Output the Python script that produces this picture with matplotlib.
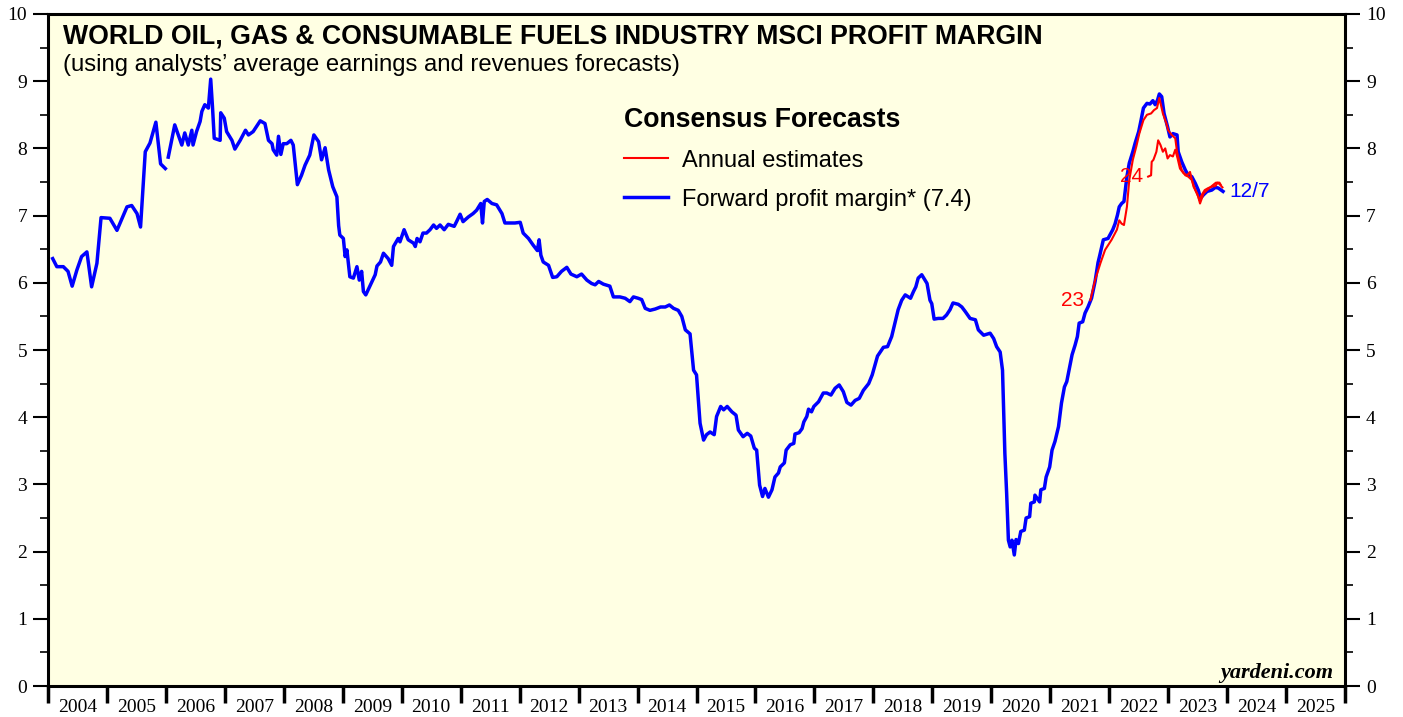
import numpy as np
import matplotlib.pyplot as plt
from matplotlib.ticker import MultipleLocator, FixedLocator, NullFormatter

# Forward profit margin (blue), decimal year vs. percent; NaN = data gap
fwd_year = [2004.08, 2004.15, 2004.26, 2004.34, 2004.41, 2004.49, 2004.57, 2004.66, 2004.74, 2004.83,
            2004.90, 2005.05, 2005.17, 2005.34, 2005.42, 2005.51, 2005.57, 2005.65, 2005.73, 2005.83,
            2005.91, 2005.99, 2006.01,
            2006.04, 2006.15, 2006.21, 2006.27, 2006.32, 2006.38, 2006.44, 2006.46, 2006.52, 2006.58,
            2006.61, 2006.66, 2006.72, 2006.76, 2006.79, 2006.82, 2006.92, 2006.93, 2006.99, 2007.03,
            2007.12, 2007.17, 2007.26, 2007.35, 2007.40, 2007.48, 2007.60, 2007.68, 2007.74, 2007.80,
            2007.82, 2007.88, 2007.91, 2007.95, 2007.99, 2008.05, 2008.12, 2008.16, 2008.23, 2008.30,
            2008.36, 2008.44, 2008.51, 2008.59, 2008.64, 2008.70, 2008.76, 2008.83, 2008.90, 2008.93,
            2008.95, 2009.01, 2009.04, 2009.07, 2009.12, 2009.18, 2009.24, 2009.28, 2009.32, 2009.35,
            2009.39, 2009.46, 2009.55, 2009.58, 2009.64, 2009.69, 2009.77, 2009.83, 2009.86, 2009.94,
            2009.97, 2010.04, 2010.11, 2010.20, 2010.23, 2010.26, 2010.31, 2010.36, 2010.42, 2010.48,
            2010.54, 2010.59, 2010.65, 2010.72, 2010.79, 2010.89, 2010.93, 2010.99, 2011.04, 2011.13,
            2011.21, 2011.27, 2011.34, 2011.37, 2011.40, 2011.45, 2011.53, 2011.61, 2011.70, 2011.75,
            2011.84, 2011.92, 2012.01, 2012.06, 2012.15, 2012.23, 2012.30, 2012.33, 2012.36, 2012.40,
            2012.49, 2012.56, 2012.63, 2012.71, 2012.80, 2012.87, 2012.97, 2013.05, 2013.14, 2013.22,
            2013.28, 2013.34, 2013.42, 2013.53, 2013.59, 2013.70, 2013.79, 2013.87, 2013.93, 2014.01,
            2014.07, 2014.13, 2014.21, 2014.30, 2014.39, 2014.47, 2014.54, 2014.61, 2014.69, 2014.75,
            2014.81, 2014.89, 2014.95, 2015.00, 2015.06, 2015.12, 2015.17, 2015.23, 2015.30, 2015.34,
            2015.41, 2015.46, 2015.52, 2015.60, 2015.67, 2015.71, 2015.79, 2015.86, 2015.92, 2015.98,
            2016.02, 2016.07, 2016.12, 2016.16, 2016.22, 2016.28, 2016.33, 2016.39, 2016.42, 2016.49,
            2016.52, 2016.59, 2016.65, 2016.67, 2016.74, 2016.79, 2016.82, 2016.87, 2016.90, 2016.95,
            2016.99, 2017.07, 2017.15, 2017.21, 2017.28, 2017.35, 2017.42, 2017.49, 2017.55, 2017.62,
            2017.69, 2017.76, 2017.83, 2017.92, 2017.98, 2018.07, 2018.17, 2018.24, 2018.31, 2018.37,
            2018.42, 2018.48, 2018.54, 2018.63, 2018.68, 2018.72, 2018.76, 2018.82, 2018.91, 2018.96,
            2018.99, 2019.03, 2019.10, 2019.18, 2019.24, 2019.30, 2019.35, 2019.44, 2019.50, 2019.56,
            2019.64, 2019.73, 2019.78, 2019.87, 2019.98, 2020.04, 2020.09, 2020.15, 2020.19, 2020.23,
            2020.26, 2020.29, 2020.32, 2020.35, 2020.39, 2020.42, 2020.46, 2020.50, 2020.56, 2020.59,
            2020.65, 2020.67, 2020.73, 2020.74, 2020.82, 2020.84, 2020.90, 2020.93, 2020.99, 2021.03,
            2021.08, 2021.14, 2021.19, 2021.24, 2021.28, 2021.33, 2021.37, 2021.42, 2021.46, 2021.49,
            2021.55, 2021.59, 2021.64, 2021.70, 2021.76, 2021.81, 2021.84, 2021.90, 2021.98, 2022.06,
            2022.10, 2022.14, 2022.17, 2022.21, 2022.25, 2022.30, 2022.34, 2022.40, 2022.44, 2022.50,
            2022.54, 2022.58, 2022.64, 2022.69, 2022.74, 2022.78, 2022.82, 2022.85, 2022.89, 2022.93,
            2022.99, 2023.03, 2023.08, 2023.15, 2023.17, 2023.23, 2023.29, 2023.34, 2023.40, 2023.46,
            2023.51, 2023.55, 2023.60, 2023.66, 2023.74, 2023.80, 2023.85, 2023.93]
fwd_margin = [6.36, 6.24, 6.24, 6.17, 5.95, 6.19, 6.39, 6.46, 5.94, 6.29,
              6.97, 6.96, 6.78, 7.13, 7.15, 7.03, 6.83, 7.95, 8.08, 8.39,
              7.77, 7.70, np.nan,
              7.87, 8.35, 8.20, 8.05, 8.23, 8.05, 8.27, 8.05, 8.25, 8.40,
              8.55, 8.65, 8.60, 9.03, 8.62, 8.15, 8.12, 8.53, 8.45, 8.25,
              8.12, 7.99, 8.12, 8.27, 8.20, 8.25, 8.41, 8.37, 8.12, 8.07,
              7.98, 7.90, 8.18, 7.91, 8.07, 8.07, 8.12, 8.05, 7.46, 7.60,
              7.75, 7.90, 8.20, 8.10, 7.83, 8.01, 7.68, 7.43, 7.28, 6.85,
              6.71, 6.66, 6.39, 6.49, 6.09, 6.07, 6.24, 6.04, 6.17, 5.87,
              5.82, 5.95, 6.12, 6.25, 6.31, 6.44, 6.36, 6.26, 6.54, 6.66,
              6.61, 6.79, 6.64, 6.59, 6.54, 6.66, 6.61, 6.74, 6.74, 6.79,
              6.86, 6.81, 6.86, 6.79, 6.87, 6.84, 6.91, 7.02, 6.91, 6.98,
              7.03, 7.08, 7.18, 6.89, 7.21, 7.24, 7.18, 7.16, 7.03, 6.89,
              6.89, 6.89, 6.90, 6.74, 6.66, 6.56, 6.48, 6.64, 6.41, 6.31,
              6.26, 6.08, 6.09, 6.17, 6.23, 6.13, 6.09, 6.13, 6.04, 5.99,
              5.97, 6.02, 5.98, 5.95, 5.79, 5.79, 5.77, 5.72, 5.79, 5.77,
              5.75, 5.62, 5.59, 5.61, 5.64, 5.64, 5.67, 5.62, 5.59, 5.50,
              5.30, 5.24, 4.70, 4.63, 3.91, 3.66, 3.74, 3.78, 3.74, 4.01,
              4.16, 4.11, 4.16, 4.08, 4.03, 3.81, 3.71, 3.76, 3.72, 3.54,
              3.51, 2.99, 2.82, 2.94, 2.81, 2.92, 3.11, 3.17, 3.26, 3.32,
              3.51, 3.59, 3.61, 3.75, 3.77, 3.83, 3.93, 4.01, 4.12, 4.08,
              4.16, 4.23, 4.36, 4.36, 4.33, 4.43, 4.48, 4.38, 4.22, 4.18,
              4.25, 4.28, 4.40, 4.50, 4.63, 4.91, 5.04, 5.05, 5.20, 5.42,
              5.60, 5.74, 5.82, 5.77, 5.87, 5.94, 6.07, 6.12, 5.99, 5.74,
              5.69, 5.46, 5.47, 5.47, 5.52, 5.60, 5.70, 5.68, 5.64, 5.57,
              5.47, 5.45, 5.30, 5.22, 5.25, 5.17, 5.05, 4.97, 4.70, 3.46,
              2.87, 2.17, 2.07, 2.17, 1.95, 2.18, 2.12, 2.30, 2.32, 2.50,
              2.52, 2.72, 2.74, 2.84, 2.74, 2.92, 2.94, 3.11, 3.26, 3.51,
              3.64, 3.86, 4.21, 4.45, 4.53, 4.75, 4.93, 5.07, 5.20, 5.40,
              5.42, 5.55, 5.64, 5.77, 6.02, 6.30, 6.41, 6.64, 6.66, 6.79,
              6.88, 7.01, 7.13, 7.18, 7.21, 7.58, 7.78, 7.95, 8.08, 8.25,
              8.42, 8.60, 8.67, 8.66, 8.71, 8.65, 8.72, 8.81, 8.77, 8.52,
              8.32, 8.17, 8.22, 8.20, 7.95, 7.80, 7.68, 7.60, 7.58, 7.48,
              7.38, 7.26, 7.31, 7.36, 7.38, 7.42, 7.41, 7.36]

# Annual estimates (red)
est23_year = [2021.68, 2021.76, 2021.85, 2021.93, 2022.04, 2022.13, 2022.17, 2022.21, 2022.25, 2022.30,
              2022.34, 2022.40, 2022.46, 2022.51, 2022.58, 2022.64, 2022.71, 2022.76, 2022.81, 2022.85,
              2022.91, 2022.97, 2023.00, 2023.06, 2023.12, 2023.15, 2023.19, 2023.23, 2023.29, 2023.34,
              2023.40, 2023.46, 2023.51, 2023.54, 2023.60, 2023.66, 2023.74, 2023.81, 2023.87, 2023.89]
est23 = [5.74, 6.04, 6.29, 6.49, 6.64, 6.79, 6.93, 6.88, 6.86, 7.13,
         7.53, 7.83, 8.03, 8.22, 8.42, 8.50, 8.52, 8.57, 8.60, 8.75,
         8.52, 8.37, 8.27, 8.20, 8.15, 7.95, 7.80, 7.68, 7.60, 7.58,
         7.53, 7.38, 7.28, 7.18, 7.33, 7.38, 7.44, 7.49, 7.49, 7.46]
est24_year = [2022.66, 2022.71, 2022.72, 2022.75, 2022.80, 2022.83, 2022.87, 2022.91, 2022.95, 2022.99,
              2023.03, 2023.08, 2023.12, 2023.16, 2023.20, 2023.26, 2023.32, 2023.37, 2023.43, 2023.49,
              2023.53, 2023.57, 2023.62, 2023.68, 2023.74, 2023.80, 2023.84, 2023.88, 2023.92]
est24 = [7.58, 7.60, 7.80, 7.83, 7.95, 8.12, 8.05, 7.95, 8.00, 7.85,
         7.90, 7.88, 7.98, 7.85, 7.70, 7.63, 7.60, 7.65, 7.43, 7.33,
         7.23, 7.31, 7.38, 7.41, 7.43, 7.44, 7.49, 7.46, 7.42]

years = list(range(2004, 2026))
bg = '#FFFFE3'

fig = plt.figure(figsize=(14.03, 7.17), dpi=100)
ax = fig.add_axes([0.0342, 0.0432, 0.9245, 0.9373])
ax.set_facecolor(bg)

ax.plot(fwd_year, fwd_margin, color='#0000FF', lw=2.5, solid_joinstyle='round', zorder=3,
        label='Forward profit margin* (7.4)')
ax.plot(est23_year, est23, color='#FF0000', lw=1.5, zorder=4, label='Annual estimates')
ax.plot(est24_year, est24, color='#FF0000', lw=1.5, zorder=4)

ax.set_xlim(2004, 2026)
ax.set_ylim(0, 10)

# y axis: both sides
ax.yaxis.set_major_locator(MultipleLocator(1))
ax.yaxis.set_minor_locator(MultipleLocator(0.5))
ax.tick_params(axis='y', which='major', direction='out', length=11, width=1.5, pad=4,
               labelsize=14, left=True, right=True, labelleft=True, labelright=True)
ax.tick_params(axis='y', which='minor', direction='out', length=6, width=1.2, left=True, right=True)

# x axis: ticks at year boundaries, labels mid-year
ax.xaxis.set_major_locator(FixedLocator(years + [2026]))
ax.xaxis.set_major_formatter(NullFormatter())
ax.xaxis.set_minor_locator(FixedLocator([y + 0.5 for y in years]))
ax.set_xticklabels([str(y) for y in years], minor=True)
ax.tick_params(axis='x', which='major', direction='out', length=12, width=2.5)
ax.tick_params(axis='x', which='minor', length=0, pad=9, labelsize=14)

for lab in ax.get_xticklabels(minor=True) + ax.yaxis.get_majorticklabels():
    lab.set_family('Liberation Serif')
for t in ax.yaxis.get_major_ticks():
    t.label2.set_family('Liberation Serif')

for s in ax.spines.values():
    s.set_linewidth(2.2)

fig.text(63 / 1403, 1 - 43 / 717, 'WORLD OIL, GAS & CONSUMABLE FUELS INDUSTRY MSCI PROFIT MARGIN',
         ha='left', va='baseline', fontsize=19.2, fontweight='bold', family='Liberation Sans')
fig.text(63 / 1403, 1 - 71 / 717, '(using analysts\u2019 average earnings and revenues forecasts)',
         ha='left', va='baseline', fontsize=17.2, family='Liberation Sans')

h, l = ax.get_legend_handles_labels()
leg = ax.legend(h[::-1], l[::-1], loc='upper left', bbox_to_anchor=(0.444, 0.862), frameon=False,
                title='Consensus Forecasts', handlelength=1.86, handletextpad=0.6,
                labelspacing=0.72, borderpad=0, borderaxespad=0,
                prop={'family': 'Liberation Sans', 'size': 17})
leg.get_title().set_fontweight('bold')
leg.get_title().set_fontsize(19.2)
leg.get_title().set_family('Liberation Sans')
leg._legend_box.align = 'left'

ax.text(2021.58, 5.74, '23', color='#FF0000', fontsize=15, ha='right', va='center', family='Liberation Sans')
ax.text(2022.58, 7.58, '24', color='#FF0000', fontsize=15, ha='right', va='center', family='Liberation Sans')
ax.text(2024.03, 7.36, '12/7', color='#0000FF', fontsize=15, ha='left', va='center', family='Liberation Sans')
ax.text(0.9907, 0.0119, 'yardeni.com', transform=ax.transAxes, ha='right', va='baseline',
        fontsize=16, fontweight='bold', style='italic', family='Liberation Serif')

fig.savefig('out.png', dpi=100)
